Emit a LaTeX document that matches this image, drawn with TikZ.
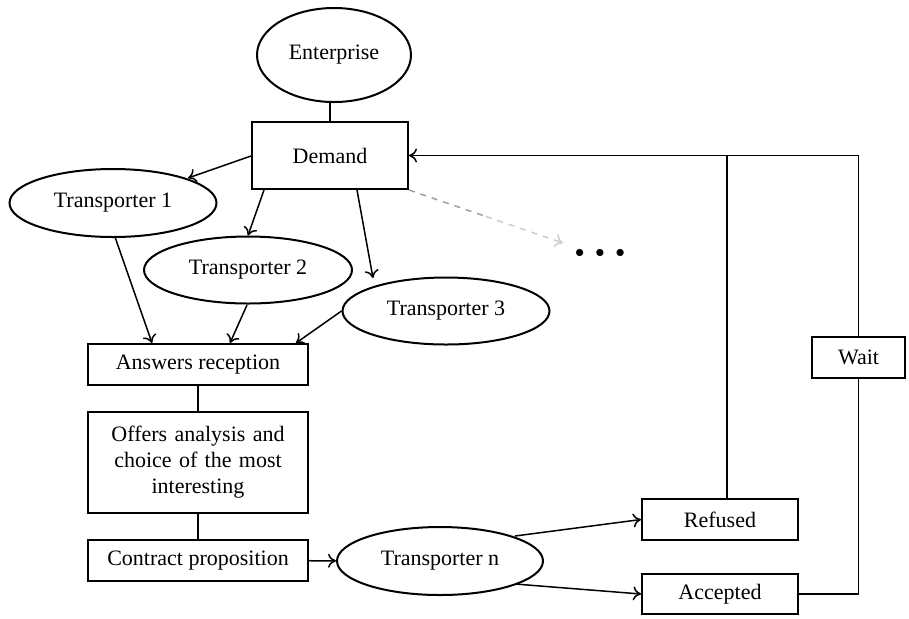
\documentclass[tikz,border=0pt]{standalone}
\usepackage{fontspec}
\setmainfont{Liberation Serif}
\usetikzlibrary{calc, shapes.geometric, arrows.meta}

\tikzset{
  actor/.style={draw, ellipse, line width=1pt, inner sep=0pt, font=\fontsize{11}{13}\selectfont},
  stepbox/.style={draw, rectangle, line width=1pt, inner sep=2pt, align=center, font=\fontsize{11}{13}\selectfont},
  link/.style={line width=0.75pt},
  flow/.style={line width=0.75pt, -{To[length=4pt, width=7pt]}}
}

\begin{document}
\begin{tikzpicture}[x=0.5pt, y=-0.5pt]
  \useasboundingbox (0,0) rectangle (909,618);

  % actors
  \node[actor, minimum width=77pt, minimum height=47pt] (ent) at (334,55) {Enterprise};
  \node[actor, minimum width=103.5pt, minimum height=34pt] (t1) at (113,203) {Transporter 1};
  \node[actor, minimum width=104pt, minimum height=33.5pt] (t2) at (248,270) {Transporter 2};
  \node[actor, minimum width=103.5pt, minimum height=33.5pt] (t3) at (446,311) {Transporter 3};
  \node[actor, minimum width=103pt, minimum height=34pt] (tn) at (440,561) {Transporter n};

  % steps
  \node[stepbox, minimum width=78pt, minimum height=33.5pt] (demand) at (330,155.5) {Demand};
  \node[stepbox, minimum width=110pt, minimum height=20.5pt] (answers) at (198,364.5) {Answers reception};
  \node[stepbox, minimum width=110pt, minimum height=50.5pt, text width=100pt] (offers) at (198,462.5) {Offers analysis and\\choice of the most\\interesting};
  \node[stepbox, minimum width=110pt, minimum height=20.5pt] (contract) at (198,560.5) {Contract proposition};
  \node[stepbox, minimum width=78pt, minimum height=20.5pt] (refused) at (720,519.5) {Refused};
  \node[stepbox, minimum width=78pt, minimum height=20pt] (accepted) at (720,594) {Accepted};
  \node[stepbox, minimum width=46.5pt, minimum height=20.5pt] (wait) at (858.5,357.5) {Wait};

  \node[font=\fontsize{9}{9}\selectfont, inner sep=0pt] (dots) at (600,253) {$\bullet\hspace{3.5pt}\bullet\hspace{3.5pt}\bullet$};
  \coordinate (more) at (563,243);
  \coordinate (refusedup) at (727,499);
  \coordinate (join) at (727,155.5);

  % demand to transporters
  \draw[link] (ent.south -| demand.north) -- (demand.north);
  \draw[flow] ($(demand.west)+(0,0.5)$) -- (188,178);
  \draw[flow] ($(demand.south west)+(13,0)$) -- (t2.north);
  \draw[flow] ($(demand.south west)+(106,0)$) -- (373,278);
  \draw[link, dashed, gray!75] (demand.south east) -- ($(demand.south east)!0.5!(more)$);
  \draw[link, dashed, gray!40, -{To[length=4pt, width=7pt]}] ($(demand.south east)!0.5!(more)$) -- (more);

  % answers
  \draw[flow] (115,237) -- (answers.north -| 152,0);
  \draw[flow] (247,305) -- (answers.north -| 230,0);
  \draw[flow] (t3.west) -- (answers.north -| 296,0);
  \draw[link] (answers) -- (offers);
  \draw[link] (offers) -- (contract);
  \draw[flow] (contract) -- (tn);

  % outcome
  \draw[flow] (515,536) -- (refused.west);
  \draw[flow] (515,584) -- (accepted.west);
  \draw[link] (accepted.east) -| (wait.south);
  \draw[flow] (wait.north) |- (demand.east);
  \draw[link] (refusedup) -- (join);
\end{tikzpicture}
\end{document}
